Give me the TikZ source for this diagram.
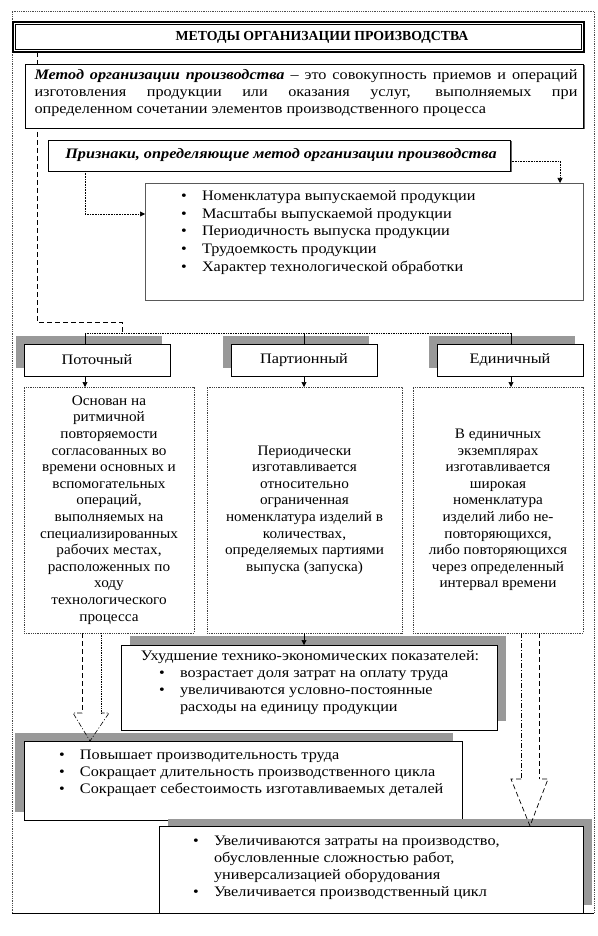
\documentclass[tikz,border=0pt]{standalone}
\usepackage{fontspec}
\setmainfont[FakeStretch=1.12]{Liberation Serif}
\newfontfamily\plainfont{Liberation Serif}
\newfontfamily\descfont[FakeStretch=1.05]{Liberation Serif}
\usetikzlibrary{arrows.meta}
\newcommand{\bul}{\makebox[21pt][l]{\textbullet}}
\newcommand{\bulind}{\hspace*{21pt}}
\begin{document}
\begin{tikzpicture}[x=1pt,y=-1pt,
  txt/.style={font=\fontsize{14.5}{17}\selectfont, inner sep=0pt, outer sep=0pt},
  desc/.style={font=\descfont\fontsize{14.5}{16.6}\selectfont},
  frame/.style={anchor=north west, inner sep=0pt, outer sep=0pt, fill=white},
  solidbox/.style={frame, draw=black, line width=0.7pt},
  graybox/.style={frame, draw=black!65, line width=0.8pt},
  dotbox/.style={frame, draw=black!75, line width=0.8pt, densely dotted},
  shadow/.style={fill=black!40},
  hardshadow/.style={fill=black!60},
  tip/.style={-{Triangle[length=5pt,width=5pt]}, line width=0.6pt},
  dotline/.style={densely dotted, line width=0.7pt},
  dashline/.style={dash pattern=on 5pt off 3pt, line width=0.7pt},
  dashdotline/.style={dash pattern=on 5pt off 2pt on 1pt off 2pt, line width=0.6pt},
]
\useasboundingbox (0,0) rectangle (597,936);
\fill[white] (0,0) rectangle (597,936);
% outer frame
\draw[black!70, densely dotted, line width=0.8pt] (12,913) -- (12,11) -- (594,11) -- (594,913);
\draw[line width=0.8pt] (12,913) -- (594,913);

% helper coordinates
\coordinate (xd) at (37,0);
\coordinate (xl) at (85,0);
\coordinate (xm) at (304,0);
\coordinate (xe) at (511,0);
\coordinate (xr) at (560,0);
\coordinate (yl) at (0,214);
\coordinate (yr) at (0,161);
\coordinate (hd) at (0,322);
\coordinate (bus) at (122,333);

% title
\node[solidbox, line width=1.1pt, minimum width=571, minimum height=30] (title) at (13,22) {};
\draw[line width=0.8pt] ([shift={(2.6,2.6)}]title.north west) rectangle ([shift={(-2.6,-2.6)}]title.south east);
\node[txt, font=\plainfont\fontsize{13.8}{16}\selectfont\bfseries] (titletext) at (322,37) {МЕТОДЫ ОРГАНИЗАЦИИ ПРОИЗВОДСТВА};

% big dashed line (behind the definition box) and bus
\draw[dashline] (xd |- title.south) -- (xd |- hd) -| (bus);
\draw[dotline] (xl |- bus) -- (xe |- bus);

% definition
\fill[hardshadow] (26.5,65.5) rectangle (584.5,129.5);
\node[solidbox, minimum width=558, minimum height=64] (def) at (25,64) {};
\node[txt, text width=543pt, align=justify] (deftext) at (306,93) {\textbf{\textit{Метод организации производства}} – это совокупность приемов и операций\linebreak
изготовления продукции или оказания услуг, выполняемых при\linebreak
определенном сочетании элементов производственного процесса};

% signs
\fill[hardshadow] (49.5,141.5) rectangle (511.5,172.5);
\node[solidbox, minimum width=462, minimum height=31] (pri) at (48,140) {};
\node[txt, font=\fontsize{14.5}{17}\selectfont\bfseries\itshape] (pritext) at (281,155) {Признаки, определяющие метод организации производства};

% list
\node[graybox, minimum width=438, minimum height=117] (list) at (145,183) {};
\node[txt, anchor=west, align=left, font=\fontsize{14.5}{17.6}\selectfont] (listtext) at (181,232.5) {\bul Номенклатура выпускаемой продукции\\
\bul Масштабы выпускаемой продукции\\
\bul Периодичность выпуска продукции\\
\bul Трудоемкость продукции\\
\bul Характер технологической обработки};

\draw[dotline, tip] (xl |- pri.south) |- (list.west |- yl);
\draw[dotline, tip] (pri.east |- yr) -| (xr |- list.north);

% method boxes
\fill[shadow] (16,336) rectangle (162,368);
\node[solidbox, txt, minimum width=146, minimum height=32] (pot) at (24,344) {Поточный};
\fill[shadow] (223,336) rectangle (369,368);
\node[solidbox, txt, minimum width=146, minimum height=32] (par) at (231,344) {Партионный};
\fill[shadow] (429,336) rectangle (575,368);
\node[solidbox, txt, minimum width=146, minimum height=32] (edi) at (437,344) {Единичный};

\draw[line width=0.6pt] (xl |- bus) -- (xl |- pot.north);
\draw[line width=0.6pt] (xm |- bus) -- (xm |- par.north);
\draw[line width=0.6pt] (xe |- bus) -- (xe |- edi.north);

% description boxes
\node[dotbox, txt, desc, align=center, minimum width=170, minimum height=246] (d1) at (24,387) {Основан на\\ритмичной\\повторяемости\\согласованных во\\времени основных и\\вспомогательных\\операций,\\выполняемых на\\специализированных\\рабочих местах,\\расположенных по\\ходу\\технологического\\процесса};
\node[dotbox, txt, desc, align=center, minimum width=195, minimum height=246] (d2) at (207,387) {Периодически\\изготавливается\\относительно\\ограниченная\\номенклатура изделий в\\количествах,\\определяемых партиями\\выпуска (запуска)};
\node[dotbox, txt, desc, align=center, minimum width=170, minimum height=246] (d3) at (413,387) {В единичных\\экземплярах\\изготавливается\\широкая\\номенклатура\\изделий либо не-\\повторяющихся,\\либо повторяющихся\\через определенный\\интервал времени};

\draw[tip] (xl |- pot.south) -- (xl |- d1.north);
\draw[tip] (xm |- par.south) -- (xm |- d2.north);
\draw[tip] (xe |- edi.south) -- (xe |- d3.north);

% deterioration box
\fill[shadow] (130,636) rectangle (506,721);
\node[solidbox, minimum width=376, minimum height=85] (uh) at (121,645) {};
\node[txt] (uhtitle) at (310,657) {Ухудшение технико-экономических показателей:};
\node[txt, anchor=west, align=left] (uhlist) at (159,693) {\bul возрастает доля затрат на оплату труда\\
\bul увеличиваются условно-постоянные\\
\bulind расходы на единицу продукции};
\draw[tip] (xm |- d2.south) -- (xm |- uh.north);

% advantages box
\fill[shadow] (15,733) rectangle (453,812);
\node[solidbox, minimum width=438, minimum height=79] (pov) at (24,741) {};
\node[txt, anchor=west, align=left] (povlist) at (59,773.5) {\bul Повышает производительность труда\\
\bul Сокращает длительность производственного цикла\\
\bul Сокращает себестоимость изготавливаемых деталей};

% costs box
\fill[shadow] (168,819) rectangle (592,905);
\node[solidbox, minimum width=424, minimum height=87] (uv) at (159,826) {};
\node[txt, anchor=west, align=left] (uvlist) at (193,867.5) {\bul Увеличиваются затраты на производство,\\
\bulind обусловленные сложностью работ,\\
\bulind универсализацией оборудования\\
\bul Увеличивается производственный цикл};

% hollow arrows
\coordinate (a1l) at (82,713);
\coordinate (a1r) at (101,713);
\coordinate (a1tip) at (90,0);
\draw[dashline] (a1l |- d1.south) -- (a1l);
\draw[dotline] (a1r |- d1.south) -- (a1r);
\draw[dashdotline] (a1l) -- (73,713) -- (a1tip |- pov.north) -- (109,713) -- (a1r);

\coordinate (a2l) at (521,779);
\coordinate (a2r) at (539,779);
\coordinate (a2tip) at (530,0);
\draw[dashdotline] (a2l |- d3.south) -- (a2l);
\draw[dashline] (a2r |- d3.south) -- (a2r);
\draw[dashline] (a2l) -- (511,779) -- (a2tip |- uv.north) -- (548,779) -- (a2r);
\end{tikzpicture}
\end{document}
